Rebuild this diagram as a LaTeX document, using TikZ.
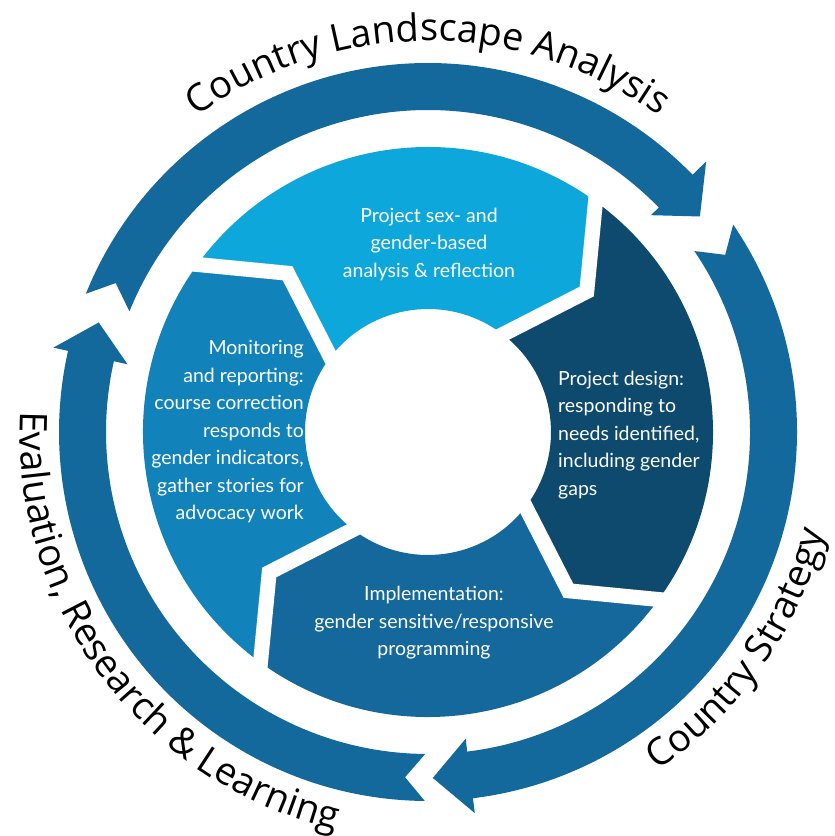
\documentclass[tikz,border=0pt]{standalone}
\usepackage{fontspec}
\setmainfont{Lato}
\newfontfamily\outerfont{Open Sans}
\usetikzlibrary{decorations.text,calc}
\definecolor{ringblue}{RGB}{19,105,155}
\definecolor{lbblue}{RGB}{14,167,219}
\definecolor{designblue}{RGB}{13,74,110}
\definecolor{implblue}{RGB}{20,104,155}
\definecolor{monblue}{RGB}{18,131,186}
\begin{document}
\begin{tikzpicture}[x=1pt,y=1pt,
  segtext/.style={text=white, font=\fontsize{19.5}{27.5}\selectfont, inner sep=0pt},
  gapline/.style={draw=white, line width=15pt},
  arcword/.style={decorate, decoration={text along path, text align=center,
     text={|\outerfont\fontsize{38}{40}\selectfont|#1}}}]
\useasboundingbox (-428,-404) rectangle (407,432);

% ---- outer ring arrows ----
\fill[ringblue] (158:369) arc[start angle=158,end angle=44.2,radius=369]
  -- (44.2:388) -- (38.4:347) -- (44.2:311) -- (44.2:322)
  arc[start angle=44.2,end angle=158,radius=322] -- (154.5:346) -- cycle;
\fill[ringblue] (34.2:369) arc[start angle=34.2,end angle=-83,radius=369]
  -- (-83:384) -- (-89.2:346) -- (-83:309) -- (-83:322)
  arc[start angle=-83,end angle=34.2,radius=322] -- (30.8:346) -- cycle;
\fill[ringblue] (-90.5:369) arc[start angle=-90.5,end angle=-192.7,radius=369]
  -- (-192.7:384) -- (-198.4:347) -- (-192.7:308) -- (-192.7:322)
  arc[start angle=-192.7,end angle=-90.5,radius=322] -- (-93.8:346) -- cycle;

% ---- inner segments ----
\fill[designblue] (54:285) arc[start angle=54,end angle=-36,radius=285]
  -- (-48.5:212) -- (-37.5:123) arc[start angle=-37.5,end angle=52.5,radius=123]
  -- (41.5:212) -- cycle;
\fill[implblue] (-36:285) arc[start angle=-36,end angle=-126,radius=285]
  -- (-138.5:212) -- (-127.5:123) arc[start angle=-127.5,end angle=-37.5,radius=123]
  -- (-48.5:212) -- cycle;
\fill[monblue] (-126:285) arc[start angle=-126,end angle=-216,radius=285]
  -- (-228.5:212) -- (-217.5:123) arc[start angle=-217.5,end angle=-127.5,radius=123]
  -- (-138.5:212) -- cycle;
\fill[lbblue] (144:285) arc[start angle=144,end angle=54,radius=285]
  -- (41.5:212) -- (52.5:123) arc[start angle=52.5,end angle=142.5,radius=123]
  -- (131.5:212) -- cycle;

% ---- white gaps between segments ----
\foreach \t in {54,-36,-126,144}{
  \draw[gapline] ($(\t-12.5:212)!1.25!(\t:285)$) -- (\t-12.5:212) -- ($(\t-12.5:212)!1.25!(\t-1.5:123)$);
}

% ---- segment texts ----
\node[segtext, align=center] (lb) at (1,188)
  {Project sex- and\\gender-based\\analysis \& reflection};
\node[segtext, align=left, anchor=west] (design) at (130,-3)
  {Project design:\\responding to\\needs identified,\\including gender\\gaps};
\node[segtext, align=center] (impl) at (6,-191)
  {Implementation:\\gender sensitive/responsive\\programming};
\node[segtext, align=right, anchor=east] (mon) at (-124,0)
  {Monitoring\\and reporting:\\course correction\\responds to\\gender indicators,\\gather stories for\\advocacy work};

% ---- curved outer labels ----
\path[arcword={Country Landscape Analysis}] (150:391) arc[start angle=150,end angle=30,radius=391];
\path[arcword={Country Strategy}] (-80:409) arc[start angle=-80,end angle=10,radius=409];
\path[arcword={Evaluation, Research {\&} Learning}] (170:408) arc[start angle=170,end angle=264,radius=408];
\end{tikzpicture}
\end{document}
